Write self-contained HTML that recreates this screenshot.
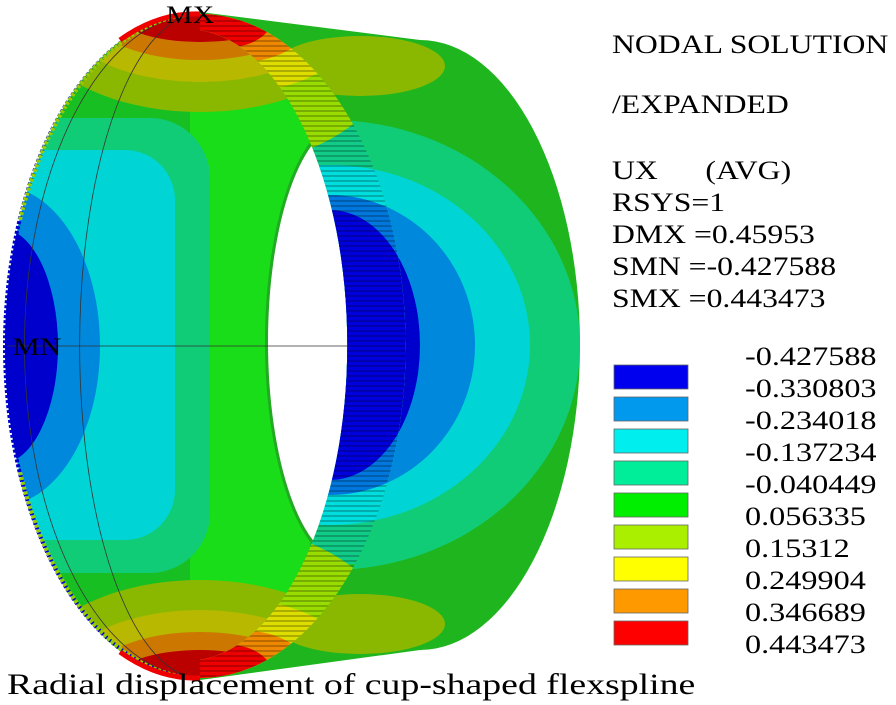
<!DOCTYPE html>
<html><head><meta charset="utf-8"><style>
html,body{margin:0;background:#fff;width:896px;height:705px;overflow:hidden}
svg{display:block}
text{font-family:"Liberation Serif",serif;fill:#000}
</style></head><body>
<svg width="896" height="705" viewBox="0 0 896 705">
<defs>
<clipPath id="body"><path d="M200,12 L420,40 A160,305 0 0 1 420,650 L200,680 A195,334 0 0 1 200,12 Z"/></clipPath>
<clipPath id="face"><path d="M200,14 A160,331 0 0 1 200,678 A195,332 0 0 1 200,14 Z"/></clipPath>
<clipPath id="teeth"><path d="M200,14 A205,331 0 0 1 200,678 L200,660 A160,316 0 0 0 200,30 Z"/></clipPath>
<pattern id="str" width="8" height="5" patternUnits="userSpaceOnUse"><rect width="8" height="2" fill="rgba(0,0,0,0.22)"/></pattern>
</defs>
<g clip-path="url(#body)">
<rect x="0" y="0" width="600" height="705" fill="#1fb51f"/>
<ellipse cx="330" cy="345" rx="250" ry="225" fill="#11cc77"/>
<ellipse cx="330" cy="345" rx="200" ry="180" fill="#00d4d4"/>
<ellipse cx="330" cy="345" rx="145" ry="150" fill="#0088dd"/>
<ellipse cx="330" cy="345" rx="90" ry="135" fill="#0000cc"/>
<ellipse cx="360" cy="66" rx="85" ry="30" fill="#8ab800"/>
<ellipse cx="360" cy="624" rx="85" ry="30" fill="#8ab800"/>
</g>
<g clip-path="url(#face)">
<rect x="0" y="0" width="600" height="705" fill="#18bf22"/>
<rect x="190" y="0" width="120" height="705" fill="#18dd18"/>
<rect x="-220" y="118" width="430" height="455" rx="60" fill="#11cc77"/>
<rect x="-220" y="150" width="395" height="390" rx="50" fill="#00d4d4"/>
<ellipse cx="0" cy="346" rx="100" ry="160" fill="#0088dd"/>
<ellipse cx="0" cy="346" rx="58" ry="118" fill="#0000cc"/>
<ellipse cx="200" cy="12" rx="175" ry="100" fill="#8ab800"/>
<ellipse cx="200" cy="12" rx="140" ry="70" fill="#b8b800"/>
<ellipse cx="200" cy="12" rx="110" ry="48" fill="#cc7700"/>
<ellipse cx="200" cy="12" rx="85" ry="30" fill="#bb0000"/>
<ellipse cx="200" cy="680" rx="175" ry="100" fill="#8ab800"/>
<ellipse cx="200" cy="680" rx="140" ry="70" fill="#b8b800"/>
<ellipse cx="200" cy="680" rx="110" ry="48" fill="#cc7700"/>
<ellipse cx="200" cy="680" rx="85" ry="30" fill="#bb0000"/>
<ellipse cx="345" cy="342" rx="80" ry="222" fill="#22aa22"/>
<ellipse cx="345" cy="342" rx="77" ry="218" fill="#fff"/>
<path d="M5,346 L360,346" stroke="#333" stroke-width="0.8"/>
</g>
<path d="M200,14 A175,331 0 0 0 200,678" fill="none" stroke="#333" stroke-width="0.8"/>
<path d="M200,14 A120,331 0 0 0 200,678" fill="none" stroke="#333" stroke-width="0.8"/>
<g clip-path="url(#teeth)">
<rect x="0" y="0" width="600" height="705" fill="#22cc22"/>
<ellipse cx="330" cy="345" rx="250" ry="220" fill="#11cc88"/>
<ellipse cx="330" cy="345" rx="200" ry="180" fill="#00dddd"/>
<ellipse cx="330" cy="345" rx="145" ry="150" fill="#0077dd"/>
<ellipse cx="330" cy="345" rx="90" ry="135" fill="#0000dd"/>
<ellipse cx="240" cy="12" rx="170" ry="150" fill="#99dd00"/>
<ellipse cx="240" cy="12" rx="120" ry="80" fill="#dddd00"/>
<ellipse cx="240" cy="12" rx="75" ry="50" fill="#ee8800"/>
<ellipse cx="230" cy="12" rx="45" ry="35" fill="#ee0000"/>
<ellipse cx="240" cy="680" rx="170" ry="150" fill="#99dd00"/>
<ellipse cx="240" cy="680" rx="120" ry="80" fill="#dddd00"/>
<ellipse cx="240" cy="680" rx="75" ry="50" fill="#ee8800"/>
<ellipse cx="230" cy="680" rx="45" ry="35" fill="#ee0000"/>
<rect x="0" y="0" width="600" height="705" fill="url(#str)"/>
</g>
<path d="M200,14 A195,332 0 0 0 200,678" fill="none" stroke="#0000cc" stroke-width="4" stroke-dasharray="3 2"/>
<path d="M200,14 A195,332 0 0 0 20,220" fill="none" stroke="#99cc00" stroke-width="4" stroke-dasharray="3 2"/>
<path d="M200,678 A195,332 0 0 1 20,472" fill="none" stroke="#99cc00" stroke-width="4" stroke-dasharray="3 2"/>
<path d="M200,14 A195,332 0 0 0 120,40" fill="none" stroke="#ee0000" stroke-width="5"/>
<path d="M200,678 A195,332 0 0 1 120,652" fill="none" stroke="#ee0000" stroke-width="5"/>
<text x="0" y="23" font-size="25" transform="translate(166,0) scale(1.2,1)">MX</text>
<text x="0" y="355" font-size="25" transform="translate(13,0) scale(1.2,1)">MN</text>
<g font-size="26" transform="translate(612,0) scale(1.22,1)">
<text x="0" y="53">NODAL SOLUTION</text>
<text x="0" y="113">/EXPANDED</text>
<text x="0" y="179" xml:space="preserve">UX      (AVG)</text>
<text x="0" y="211">RSYS=1</text>
<text x="0" y="243">DMX =0.45953</text>
<text x="0" y="275">SMN =-0.427588</text>
<text x="0" y="307">SMX =0.443473</text>
</g>
<g font-size="26" transform="translate(745,0) scale(1.24,1)">
<text x="0" y="365">-0.427588</text>
<text x="0" y="397">-0.330803</text>
<text x="0" y="429">-0.234018</text>
<text x="0" y="461">-0.137234</text>
<text x="0" y="493">-0.040449</text>
<text x="0" y="525">0.056335</text>
<text x="0" y="557">0.15312</text>
<text x="0" y="589">0.249904</text>
<text x="0" y="621">0.346689</text>
<text x="0" y="653">0.443473</text>
</g>
<g stroke="#666" stroke-width="0.8">
<rect x="614" y="365" width="74" height="24" fill="#0000ee"/>
<rect x="614" y="397" width="74" height="24" fill="#0099ee"/>
<rect x="614" y="429" width="74" height="24" fill="#00eeee"/>
<rect x="614" y="461" width="74" height="24" fill="#00ee99"/>
<rect x="614" y="493" width="74" height="24" fill="#00ee00"/>
<rect x="614" y="525" width="74" height="24" fill="#aaee00"/>
<rect x="614" y="557" width="74" height="24" fill="#ffff00"/>
<rect x="614" y="589" width="74" height="24" fill="#ff9900"/>
<rect x="614" y="621" width="74" height="24" fill="#ff0000"/>
</g>
<text x="0" y="694" font-size="30" transform="translate(7,0) scale(1.26,1)">Radial displacement of cup-shaped flexspline</text>
</svg>
</body></html>
